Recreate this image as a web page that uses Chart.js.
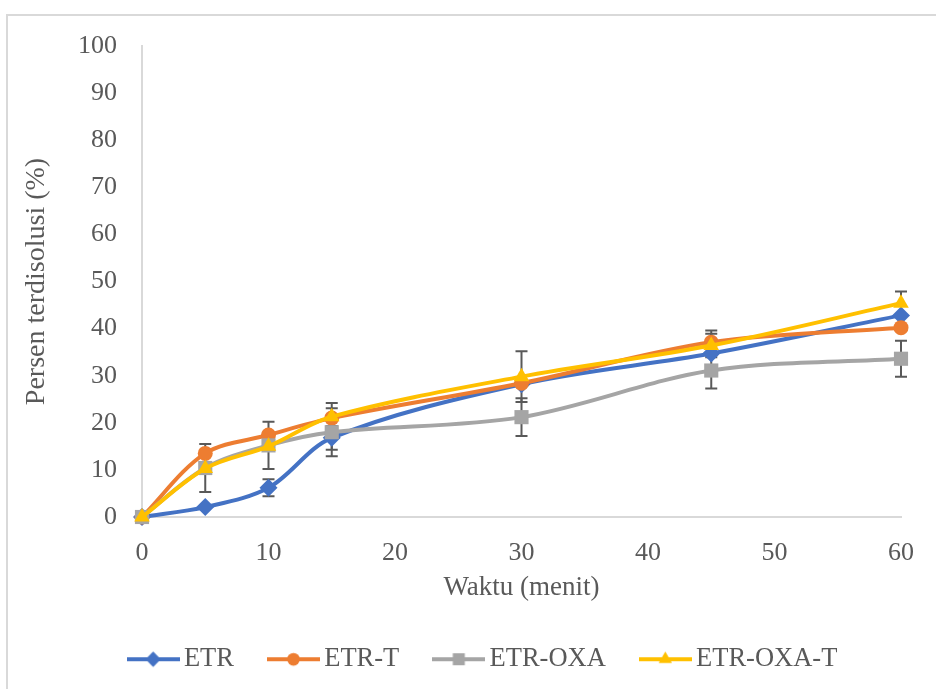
<!DOCTYPE html>
<html>
<head>
<meta charset="utf-8">
<script src="https://cdn.jsdelivr.net/npm/chart.js@4.4.1/dist/chart.umd.min.js"></script>
<style>
  html, body { margin: 0; padding: 0; background: #fff; }
  #wrap { position: relative; width: 936px; height: 689px; overflow: hidden; }
  #frame { position: absolute; left: 6px; top: 14px; width: 960px; height: 720px; border: 2px solid #d9d9d9; box-sizing: border-box; }
  canvas { position: absolute; left: 0; top: 0; }
</style>
</head>
<body>
<div id="wrap">
  <div id="frame"></div>
  <canvas id="myChart" width="936" height="689"></canvas>
</div>
<script>
// waktu (menit)
const waktu = [0, 5, 10, 15, 30, 45, 60];
const xTicks = [0, 10, 20, 30, 40, 50, 60];

// persen terdisolusi (%)
const etr = [0, 2.1, 6.2, 16.8, 28.2, 34.7, 42.8];
const etrT = [0, 13.5, 17.4, 21.0, 28.4, 37.1, 40.2];
const etrOxa = [0, 10.4, 15.2, 18.0, 21.2, 31.1, 33.6];
const etrOxaT = [0, 10.3, 15.0, 21.3, 29.8, 36.4, 45.4];

// error bars (+/-)
const etrErr = [0, 0, 1.8, 2.5, 0, 0, 0];
const etrTErr = [0, 0, 0, 3.2, 0, 2.5, 0];
const etrOxaErr = [0, 5.1, 5.0, 5.1, 4.0, 3.8, 3.8];
const etrOxaTErr = [0, 0, 0, 0, 5.4, 2.5, 2.5];

const labels = ["ETR", "ETR-T", "ETR-OXA", "ETR-OXA-T"];
const colors = ["#4472C4", "#ED7D31", "#A5A5A5", "#FFC000"];
const styles = ["rectRot", "circle", "rect", "triangle"];
const radii = [9, 7.5, 10, 9];

const seriesValues = [etr, etrT, etrOxa, etrOxaT];
const seriesErrors = [etrErr, etrTErr, etrOxaErr, etrOxaTErr];

const textColor = "#595959";
const fontFamily = "'Liberation Serif', 'Times New Roman', serif";

function legendIcon(color, style, radius) {
  const c = document.createElement("canvas");
  c.width = 53;
  c.height = 22;
  const ctx = c.getContext("2d");
  ctx.strokeStyle = color;
  ctx.lineWidth = 4;
  ctx.beginPath();
  ctx.moveTo(0, 11);
  ctx.lineTo(53, 11);
  ctx.stroke();
  ctx.fillStyle = color;
  Chart.helpers.drawPoint(ctx, { pointStyle: style, radius: radius, rotation: 0, borderWidth: 0 }, 26.5, 11);
  return c;
}

const icons = labels.map((l, i) => legendIcon(colors[i], styles[i], radii[i] * 0.85));

const datasets = labels.map((label, i) => ({
  label: label,
  data: waktu.map((x, j) => ({ x: x, y: seriesValues[i][j] })),
  borderColor: colors[i],
  backgroundColor: colors[i],
  borderWidth: 4,
  tension: 0.33,
  pointStyle: styles[i],
  pointRadius: radii[i],
  pointBorderWidth: 0,
  pointBackgroundColor: colors[i],
  order: labels.length - i,
  clip: false,
}));

const errorBars = {
  id: "errorBars",
  beforeDatasetsDraw(chart) {
    const { ctx, scales } = chart;
    ctx.save();
    ctx.strokeStyle = "#595959";
    ctx.lineWidth = 2;
    seriesErrors.forEach((errs, i) => {
      errs.forEach((e, j) => {
        if (!e) return;
        const px = scales.x.getPixelForValue(waktu[j]);
        const top = scales.y.getPixelForValue(seriesValues[i][j] + e);
        const bot = scales.y.getPixelForValue(seriesValues[i][j] - e);
        ctx.beginPath();
        ctx.moveTo(px, top);
        ctx.lineTo(px, bot);
        ctx.moveTo(px - 6, top);
        ctx.lineTo(px + 6, top);
        ctx.moveTo(px - 6, bot);
        ctx.lineTo(px + 6, bot);
        ctx.stroke();
      });
    });
    ctx.restore();
  },
};

// move legend row to the right, as in the original
const legendShift = {
  id: "legendShift",
  afterLayout(chart) {
    chart.legend.left += 36;
    chart.legend.right += 36;
  },
};

const ctx = document.getElementById("myChart");
new Chart(ctx, {
  type: "line",
  data: { datasets: datasets },
  plugins: [errorBars, legendShift],
  options: {
    responsive: false,
    animation: false,
    layout: { padding: { left: 0, top: 46, right: 35, bottom: 6.5 } },
    scales: {
      x: {
        type: "linear",
        min: 0,
        max: 60,
        afterFit: (scale) => { scale.height = 87; },
        afterBuildTicks: (scale) => { scale.ticks = xTicks.map((v) => ({ value: v })); },
        grid: { display: false, drawTicks: false },
        border: { display: true, color: "#d9d9d9", width: 2 },
        ticks: { color: textColor, padding: 21, font: { family: fontFamily, size: 26 } },
        title: {
          display: true,
          text: "Waktu (menit)",
          color: textColor,
          padding: { top: 0, bottom: 0 },
          font: { family: fontFamily, size: 27 },
        },
      },
      y: {
        min: 0,
        max: 100,
        afterFit: (scale) => { scale.width = 142; },
        grid: { display: false, drawTicks: false },
        border: { display: true, color: "#d9d9d9", width: 2 },
        ticks: { stepSize: 10, color: textColor, padding: 25, font: { family: fontFamily, size: 26 } },
        title: {
          display: true,
          text: "Persen terdisolusi (%)",
          color: textColor,
          padding: { top: 20, bottom: 0 },
          font: { family: fontFamily, size: 28 },
        },
      },
    },
    plugins: {
      legend: {
        position: "bottom",
        labels: {
          usePointStyle: true,
          pointStyleWidth: 35,
          boxHeight: 22,
          padding: 42,
          color: textColor,
          font: { family: fontFamily, size: 26.5 },
          generateLabels: (chart) =>
            chart.data.datasets.map((ds, i) => ({
              text: ds.label,
              pointStyle: icons[i],
              fontColor: textColor,
              hidden: false,
              datasetIndex: i,
              lineWidth: 0,
              strokeStyle: "transparent",
              fillStyle: "transparent",
            })),
        },
      },
      tooltip: { enabled: false },
    },
  },
});
</script>
</body>
</html>
